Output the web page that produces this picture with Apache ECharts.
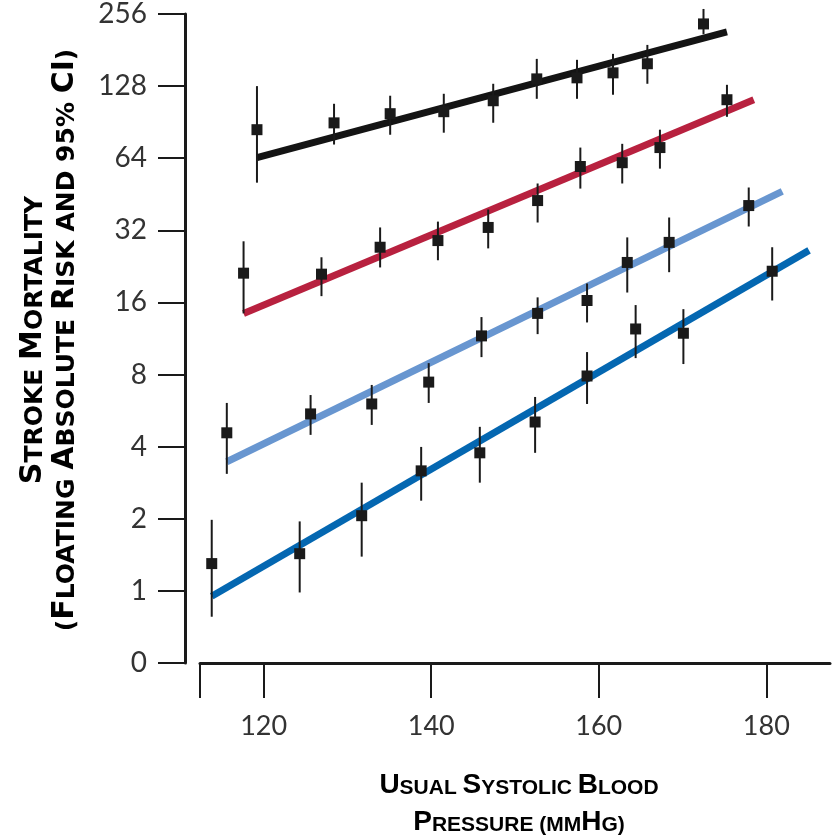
<!DOCTYPE html>
<html>
<head>
<meta charset="utf-8">
<script src="https://cdn.jsdelivr.net/npm/echarts@6/dist/echarts.min.js"></script>
<style>
  html, body { margin: 0; padding: 0; background: #fff; }
  #chart { width: 839px; height: 835px; }
</style>
</head>
<body>
<div id="chart"></div>
<script>
// axis ticks
var yTickValues = [0.5, 1, 2, 4, 8, 16, 32, 64, 128, 256];
var yTickLabels = ['0', '1', '2', '4', '8', '16', '32', '64', '128', '256'];
var xTickValues = [120, 140, 160, 180];
var xAxisStart = 112.4;
var xAxisEnd = 187.6;

// black group (top)
var xBlack = [119.2, 128.4, 135.1, 141.5, 147.4, 152.6, 157.4, 161.7, 165.8, 172.5];
var riskBlack = [84.2, 89.9, 98.2, 100.1, 111.2, 137.2, 138.6, 145.4, 158.7, 232.7];
var lowBlack = [50.6, 73.0, 80.2, 81.8, 90.0, 113.3, 113.3, 117.8, 130.9, 210.8];
var highBlack = [128, 108.0, 116.7, 118.9, 130.9, 166.3, 164.8, 174.5, 190.2, 268.7];
var fitXBlack = [119.2, 175.3];
var fitBlack = [64.4, 215.4];

// red group
var xRed = [117.6, 126.9, 133.9, 140.8, 146.8, 152.7, 157.8, 162.8, 167.3, 175.3];
var riskRed = [21.2, 21.0, 27.2, 29.0, 32.9, 42.6, 59.1, 61.3, 70.9, 112.3];
var lowRed = [14.4, 17.0, 22.4, 24.0, 26.9, 34.5, 47.8, 50.2, 57.9, 95.3];
var highRed = [28.8, 24.7, 32.9, 34.8, 39.1, 50.2, 70.9, 73.5, 84.2, 129.6];
var fitXRed = [117.6, 178.5];
var fitRed = [14.4, 112.3];

// light blue group
var xLight = [115.6, 125.6, 132.9, 139.7, 146.0, 152.7, 158.6, 163.4, 168.4, 177.9];
var riskLight = [4.57, 5.48, 6.03, 7.44, 11.6, 14.4, 16.3, 23.5, 28.5, 40.6];
var lowLight = [3.08, 4.48, 4.93, 6.09, 9.46, 11.8, 13.2, 17.6, 21.4, 33.2];
var highLight = [6.09, 6.57, 7.24, 8.93, 13.9, 16.8, 19.2, 29.9, 36.2, 48.3];
var fitXLight = [115.6, 181.9];
var fitLight = [3.46, 46.5];

// dark blue group (bottom)
var xDark = [113.8, 124.3, 131.7, 138.8, 145.8, 152.4, 158.6, 164.4, 170.1, 180.7];
var riskDark = [1.30, 1.43, 2.06, 3.17, 3.77, 5.07, 7.89, 12.4, 11.9, 21.6];
var lowDark = [0.78, 0.985, 1.39, 2.38, 2.83, 3.77, 6.03, 9.37, 8.85, 16.3];
var highDark = [1.98, 1.95, 2.83, 3.99, 4.84, 6.45, 9.93, 15.6, 15.0, 27.2];
var fitXDark = [113.8, 185.1];
var fitDark = [0.95, 26.4];

var groups = [
  { x: xBlack, risk: riskBlack, low: lowBlack, high: highBlack, fitX: fitXBlack, fit: fitBlack, color: '#141414' },
  { x: xRed, risk: riskRed, low: lowRed, high: highRed, fitX: fitXRed, fit: fitRed, color: '#b8213f' },
  { x: xLight, risk: riskLight, low: lowLight, high: highLight, fitX: fitXLight, fit: fitLight, color: '#6896d0' },
  { x: xDark, risk: riskDark, low: lowDark, high: highDark, fitX: fitXDark, fit: fitDark, color: '#0467b1' }
];

var chart = echarts.init(document.getElementById('chart'));

var series = [];
// fitted lines go underneath
groups.forEach(function (g) {
  series.push({
    type: 'line',
    data: [[g.fitX[0], g.fit[0]], [g.fitX[1], g.fit[1]]],
    showSymbol: false,
    silent: true,
    z: 1,
    lineStyle: { color: g.color, width: 7, cap: 'butt' }
  });
});
// error bars
groups.forEach(function (g) {
  series.push({
    type: 'custom',
    silent: true,
    z: 2,
    data: g.x.map(function (x, i) { return [x, g.low[i], g.high[i]]; }),
    renderItem: function (params, api) {
      var p1 = api.coord([api.value(0), api.value(1)]);
      var p2 = api.coord([api.value(0), api.value(2)]);
      return {
        type: 'line',
        shape: { x1: p1[0], y1: p1[1], x2: p2[0], y2: p2[1] },
        style: { stroke: '#1a1a1a', lineWidth: 2 }
      };
    }
  });
});
// point estimates
groups.forEach(function (g) {
  series.push({
    type: 'scatter',
    symbol: 'rect',
    symbolSize: 11,
    z: 3,
    itemStyle: { color: '#1a1a1a', opacity: 1 },
    data: g.x.map(function (x, i) { return [x, g.risk[i]]; })
  });
});

var yTitleRich = {
  a: { fontFamily: 'DejaVu Sans', fontWeight: 'bold', fontSize: 30, lineHeight: 32, color: '#333', verticalAlign: 'bottom' },
  b: { fontFamily: 'DejaVu Sans', fontWeight: 'bold', fontSize: 25, lineHeight: 32, color: '#333', verticalAlign: 'bottom' }
};
var xTitleRich = {
  a: { fontFamily: 'Liberation Sans', fontWeight: 'bold', fontSize: 28, lineHeight: 37, color: '#2b2b2b', verticalAlign: 'bottom' },
  b: { fontFamily: 'Liberation Sans', fontWeight: 'bold', fontSize: 21, lineHeight: 37, color: '#2b2b2b', verticalAlign: 'bottom' }
};

var option = {
  animation: false,
  grid: { left: 200, right: 9, top: 13, bottom: 172 },
  xAxis: {
    type: 'value',
    min: xAxisStart,
    max: xAxisEnd,
    splitLine: { show: false },
    axisLine: { lineStyle: { color: '#1a1a1a', width: 3 } },
    axisTick: {
      customValues: [xAxisStart].concat(xTickValues),
      length: 35,
      lineStyle: { color: '#1a1a1a', width: 2 }
    },
    axisLabel: {
      customValues: xTickValues,
      margin: 50,
      fontFamily: 'Lato',
      fontSize: 27,
      color: '#333'
    }
  },
  yAxis: {
    type: 'log',
    logBase: 2,
    min: 0.5,
    max: 256,
    offset: 15,
    splitLine: { show: false },
    axisLine: { lineStyle: { color: '#1a1a1a', width: 3 } },
    axisTick: { length: 27, lineStyle: { color: '#1a1a1a', width: 2 } },
    axisLabel: {
      margin: 38,
      fontFamily: 'Lato',
      fontSize: 28,
      color: '#333',
      formatter: function (value) {
        for (var i = 0; i < yTickValues.length; i++) {
          if (Math.abs(yTickValues[i] - value) < 1e-6) return yTickLabels[i];
        }
        return '';
      }
    }
  },
  graphic: [
    {
      type: 'text',
      x: 48,
      y: 340,
      rotation: Math.PI / 2,
      style: {
        text: '{a|S}{b|TROKE }{a|M}{b|ORTALITY}\n{b|(}{a|F}{b|LOATING }{a|A}{b|BSOLUTE }{a|R}{b|ISK AND 95% }{a|CI}{b|)}',
        rich: yTitleRich,
        align: 'center',
        verticalAlign: 'middle'
      }
    },
    {
      type: 'text',
      x: 519,
      y: 799,
      style: {
        text: '{a|U}{b|SUAL }{a|S}{b|YSTOLIC }{a|B}{b|LOOD}\n{a|P}{b|RESSURE (MM}{a|H}{b|G)}',
        rich: xTitleRich,
        align: 'center',
        verticalAlign: 'middle'
      }
    }
  ],
  series: series
};

chart.setOption(option);
</script>
</body>
</html>
